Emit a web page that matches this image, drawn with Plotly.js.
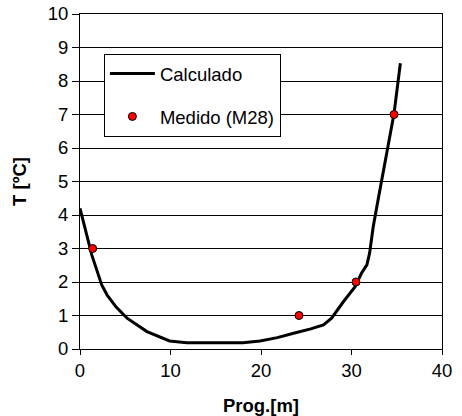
<!DOCTYPE html>
<html>
<head>
<meta charset="utf-8">
<script src="https://cdn.plot.ly/plotly-3.0.1.min.js"></script>
<style>html,body{margin:0;padding:0;background:#fff;}#chart{width:462px;height:416px;}</style>
</head>
<body>
<div id="chart"></div>
<script>
var calcX = [0, 0.7, 1.3, 2.4, 3.0, 4.0, 5.2, 7.4, 9.9, 11.8, 14, 16, 18.0, 19.9, 21.8, 23.6, 25.5, 26.9, 27.8, 29.1, 30.4, 31.1, 31.7, 32.0, 32.4, 32.8, 33.9, 34.7, 35.4];
var calcY = [4.2, 3.45, 2.81, 1.91, 1.61, 1.25, 0.92, 0.52, 0.24, 0.19, 0.19, 0.19, 0.19, 0.24, 0.34, 0.47, 0.6, 0.72, 0.92, 1.41, 1.86, 2.26, 2.51, 2.86, 3.65, 4.25, 5.84, 7.03, 8.53];
var medX = [1.4, 24.2, 30.5, 34.7];
var medY = [3, 1, 2, 7];
var xTicks = [0, 10, 20, 30, 40];
var yTicks = [0, 1, 2, 3, 4, 5, 6, 7, 8, 9, 10];

var font = "Liberation Sans, Arial, sans-serif";
var data = [
  {x: calcX, y: calcY, type: 'scatter', mode: 'lines', name: 'Calculado', legendgroup: 'a',
   line: {color: '#000', width: 3}},
  {x: medX, y: medY, type: 'scatter', mode: 'markers', name: 'Medido (M28)', legendgroup: 'b',
   marker: {color: '#ff0000', size: 8, line: {color: '#000', width: 1}}}
];
var layout = {
  width: 462, height: 416,
  margin: {l: 80, r: 20, t: 14, b: 67},
  paper_bgcolor: '#fff', plot_bgcolor: '#fff',
  font: {family: font, size: 18.5, color: '#000'},
  showlegend: true,
  legend: {x: 0.066, y: 0.881, xanchor: 'left', yanchor: 'top',
           bgcolor: '#fff', bordercolor: '#000', borderwidth: 1,
           itemwidth: 45, traceorder: 'grouped', tracegroupgap: 16,
           font: {family: font, size: 18.5, color: '#000'}},
  xaxis: {range: [0, 40], tickvals: xTicks, ticktext: xTicks.map(String),
          ticks: 'outside', ticklen: 5, tickcolor: '#000', showline: true, linecolor: '#000',
          linewidth: 1, mirror: true, showgrid: false, zeroline: false,
          tickfont: {family: font, size: 18.5},
          title: {text: '<b>Prog.[m]</b>', font: {family: font, size: 18.5}, standoff: 20}},
  yaxis: {range: [0, 10], tickvals: yTicks, ticktext: yTicks.map(String),
          ticks: 'outside', ticklen: 7, tickcolor: '#000', showline: true, linecolor: '#000',
          linewidth: 1, mirror: true, showgrid: true, gridcolor: '#000', gridwidth: 1,
          zeroline: false, tickfont: {family: font, size: 18.5},
          title: {text: '<b>T [ºC]</b>', font: {family: font, size: 18.5}, standoff: 16}}
};
Plotly.newPlot('chart', data, layout, {displayModeBar: false, staticPlot: true});
</script>
</body>
</html>
